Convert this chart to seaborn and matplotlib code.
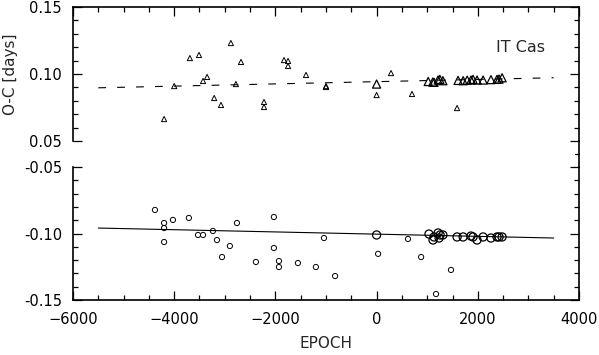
import numpy as np
import pandas as pd
import seaborn as sns
import matplotlib
matplotlib.use("Agg")
import matplotlib.pyplot as plt
from matplotlib.ticker import MultipleLocator, FormatStrFormatter
from matplotlib.lines import Line2D

# --- data ---
# upper panel (triangles), scattered visual timings
tri_epoch = [-4200, -4000, -3690, -3510, -3430, -3350, -3210, -3075, -2880, -2780,
             -2680, -2225, -2225, -1830, -1750, -1750, -1395, -1000, -1000, 0,
             285, 700, 1590]
tri_oc = [0.0664, 0.0910, 0.1119, 0.1142, 0.0948, 0.0978, 0.0821, 0.0769, 0.1231, 0.0925,
          0.1090, 0.0791, 0.0754, 0.1104, 0.1097, 0.1060, 0.0993, 0.0910, 0.0903, 0.0843,
          0.1007, 0.0851, 0.0746]
# upper panel, precise timings (bigger symbols)
tri_big_epoch = [0, 1020, 1110, 1135, 1215, 1250, 1310, 1610, 1710, 1790,
                 1865, 1905, 1985, 2105, 2260, 2380, 2420, 2480]
tri_big_oc = [0.0925, 0.0944, 0.0940, 0.0938, 0.0955, 0.0960, 0.0950, 0.0952, 0.0950, 0.0954,
              0.0955, 0.0960, 0.0955, 0.0955, 0.0958, 0.0960, 0.0962, 0.0972]

# lower panel (circles)
circ_epoch = [-4380, -4200, -4200, -4200, -4025, -3710, -3530, -3430, -3235, -3155,
              -3055, -2900, -2760, -2385, -2030, -2030, -1930, -1930, -1555, -1200,
              -1040, -820, 30, 620, 880, 1175, 1470]
circ_oc = [-0.0823, -0.0921, -0.0959, -0.1064, -0.0898, -0.0883, -0.1011, -0.1011, -0.0981, -0.1049,
           -0.1177, -0.1094, -0.0921, -0.1214, -0.0876, -0.1109, -0.1207, -0.1252, -0.1222, -0.1252,
           -0.1034, -0.1320, -0.1153, -0.1041, -0.1177, -0.1455, -0.1274]
circ_big_epoch = [0, 1035, 1115, 1135, 1215, 1255, 1310, 1235, 1590, 1710,
                  1865, 1905, 1985, 2105, 2260, 2380, 2420, 2480]
circ_big_oc = [-0.1011, -0.1004, -0.1049, -0.1026, -0.0996, -0.1011, -0.1011, -0.1034, -0.1026, -0.1026,
               -0.1019, -0.1026, -0.1049, -0.1026, -0.1034, -0.1026, -0.1026, -0.1026]

# linear fits
fit_epoch = [-5500, 3500]
fit_upper = [0.0897, 0.0972]
fit_lower = [-0.0959, -0.1034]

# --- style ---
sns.set_style("ticks")
plt.rcParams["font.family"] = ["DejaVu Sans"]
plt.rcParams["font.size"] = 10

W, H = 599, 355
fig = plt.figure(figsize=(W / 100, H / 100), dpi=100)
left, right = 73 / W, 579 / W
ax1 = fig.add_axes([left, 1 - 141 / H, right - left, (141 - 7) / H])
ax2 = fig.add_axes([left, 1 - 300 / H, right - left, (300 - 167) / H])

small = 14
big = 34
sns.lineplot(x=fit_epoch, y=fit_upper, ax=ax1, color="black", lw=0.8,
             linestyle=(0, (7, 10)))
sns.scatterplot(x=tri_epoch, y=tri_oc, ax=ax1, marker="^", s=small,
                facecolors="none", edgecolor="black", linewidth=0.7)
sns.scatterplot(x=tri_big_epoch, y=tri_big_oc, ax=ax1, marker="^", s=big,
                facecolors="none", edgecolor="black", linewidth=0.9)

sns.lineplot(x=fit_epoch, y=fit_lower, ax=ax2, color="black", lw=0.8)
sns.scatterplot(x=circ_epoch, y=circ_oc, ax=ax2, marker="o", s=small,
                facecolors="none", edgecolor="black", linewidth=0.7)
sns.scatterplot(x=circ_big_epoch, y=circ_big_oc, ax=ax2, marker="o", s=big,
                facecolors="none", edgecolor="black", linewidth=0.9)

for ax in (ax1, ax2):
    ax.set_xlim(-6000, 4000)
    ax.xaxis.set_major_locator(MultipleLocator(2000))
    ax.xaxis.set_minor_locator(MultipleLocator(500))
    ax.yaxis.set_major_locator(MultipleLocator(0.05))
    ax.yaxis.set_minor_locator(MultipleLocator(0.01))
    ax.yaxis.set_major_formatter(FormatStrFormatter("%.2f"))
    ax.tick_params(which="both", direction="in", width=0.9, colors="black", labelsize=10.5)
    ax.tick_params(which="major", length=6.5)
    ax.tick_params(which="minor", length=3.5)
    ax.tick_params(axis="y", pad=8)
    for sp in ax.spines.values():
        sp.set_linewidth(1.2)
        sp.set_color("black")
    ax.set_xlabel("")
    ax.set_ylabel("")

ax1.set_ylim(0.05, 0.15)
ax2.set_ylim(-0.15, -0.05)

ax1.spines["bottom"].set_visible(False)
ax1.tick_params(axis="x", which="both", top=True, bottom=False, labelbottom=False)
ax1.tick_params(axis="y", which="both", left=True, right=True)
ax2.spines["top"].set_visible(False)
ax2.tick_params(axis="x", which="both", top=False, bottom=True, pad=9)
ax2.tick_params(axis="y", which="both", left=True, right=True)

# right frame runs straight through the gap
fig.add_artist(Line2D([right, right], [1 - 141 / H, 1 - 167 / H], color="black", lw=1.2))
fig.add_artist(Line2D([right - 4.5 / W, right], [1 - 154 / H, 1 - 154 / H], color="black", lw=0.9))

ax1.text(0.933, 0.70, "IT Cas", transform=ax1.transAxes, ha="right", va="center", fontsize=11.5)
ax1.set_ylabel("O-C [days]", fontsize=11, labelpad=8)
ax2.set_xlabel("EPOCH", fontsize=11, labelpad=6)

fig.savefig("out.png", dpi=100)
